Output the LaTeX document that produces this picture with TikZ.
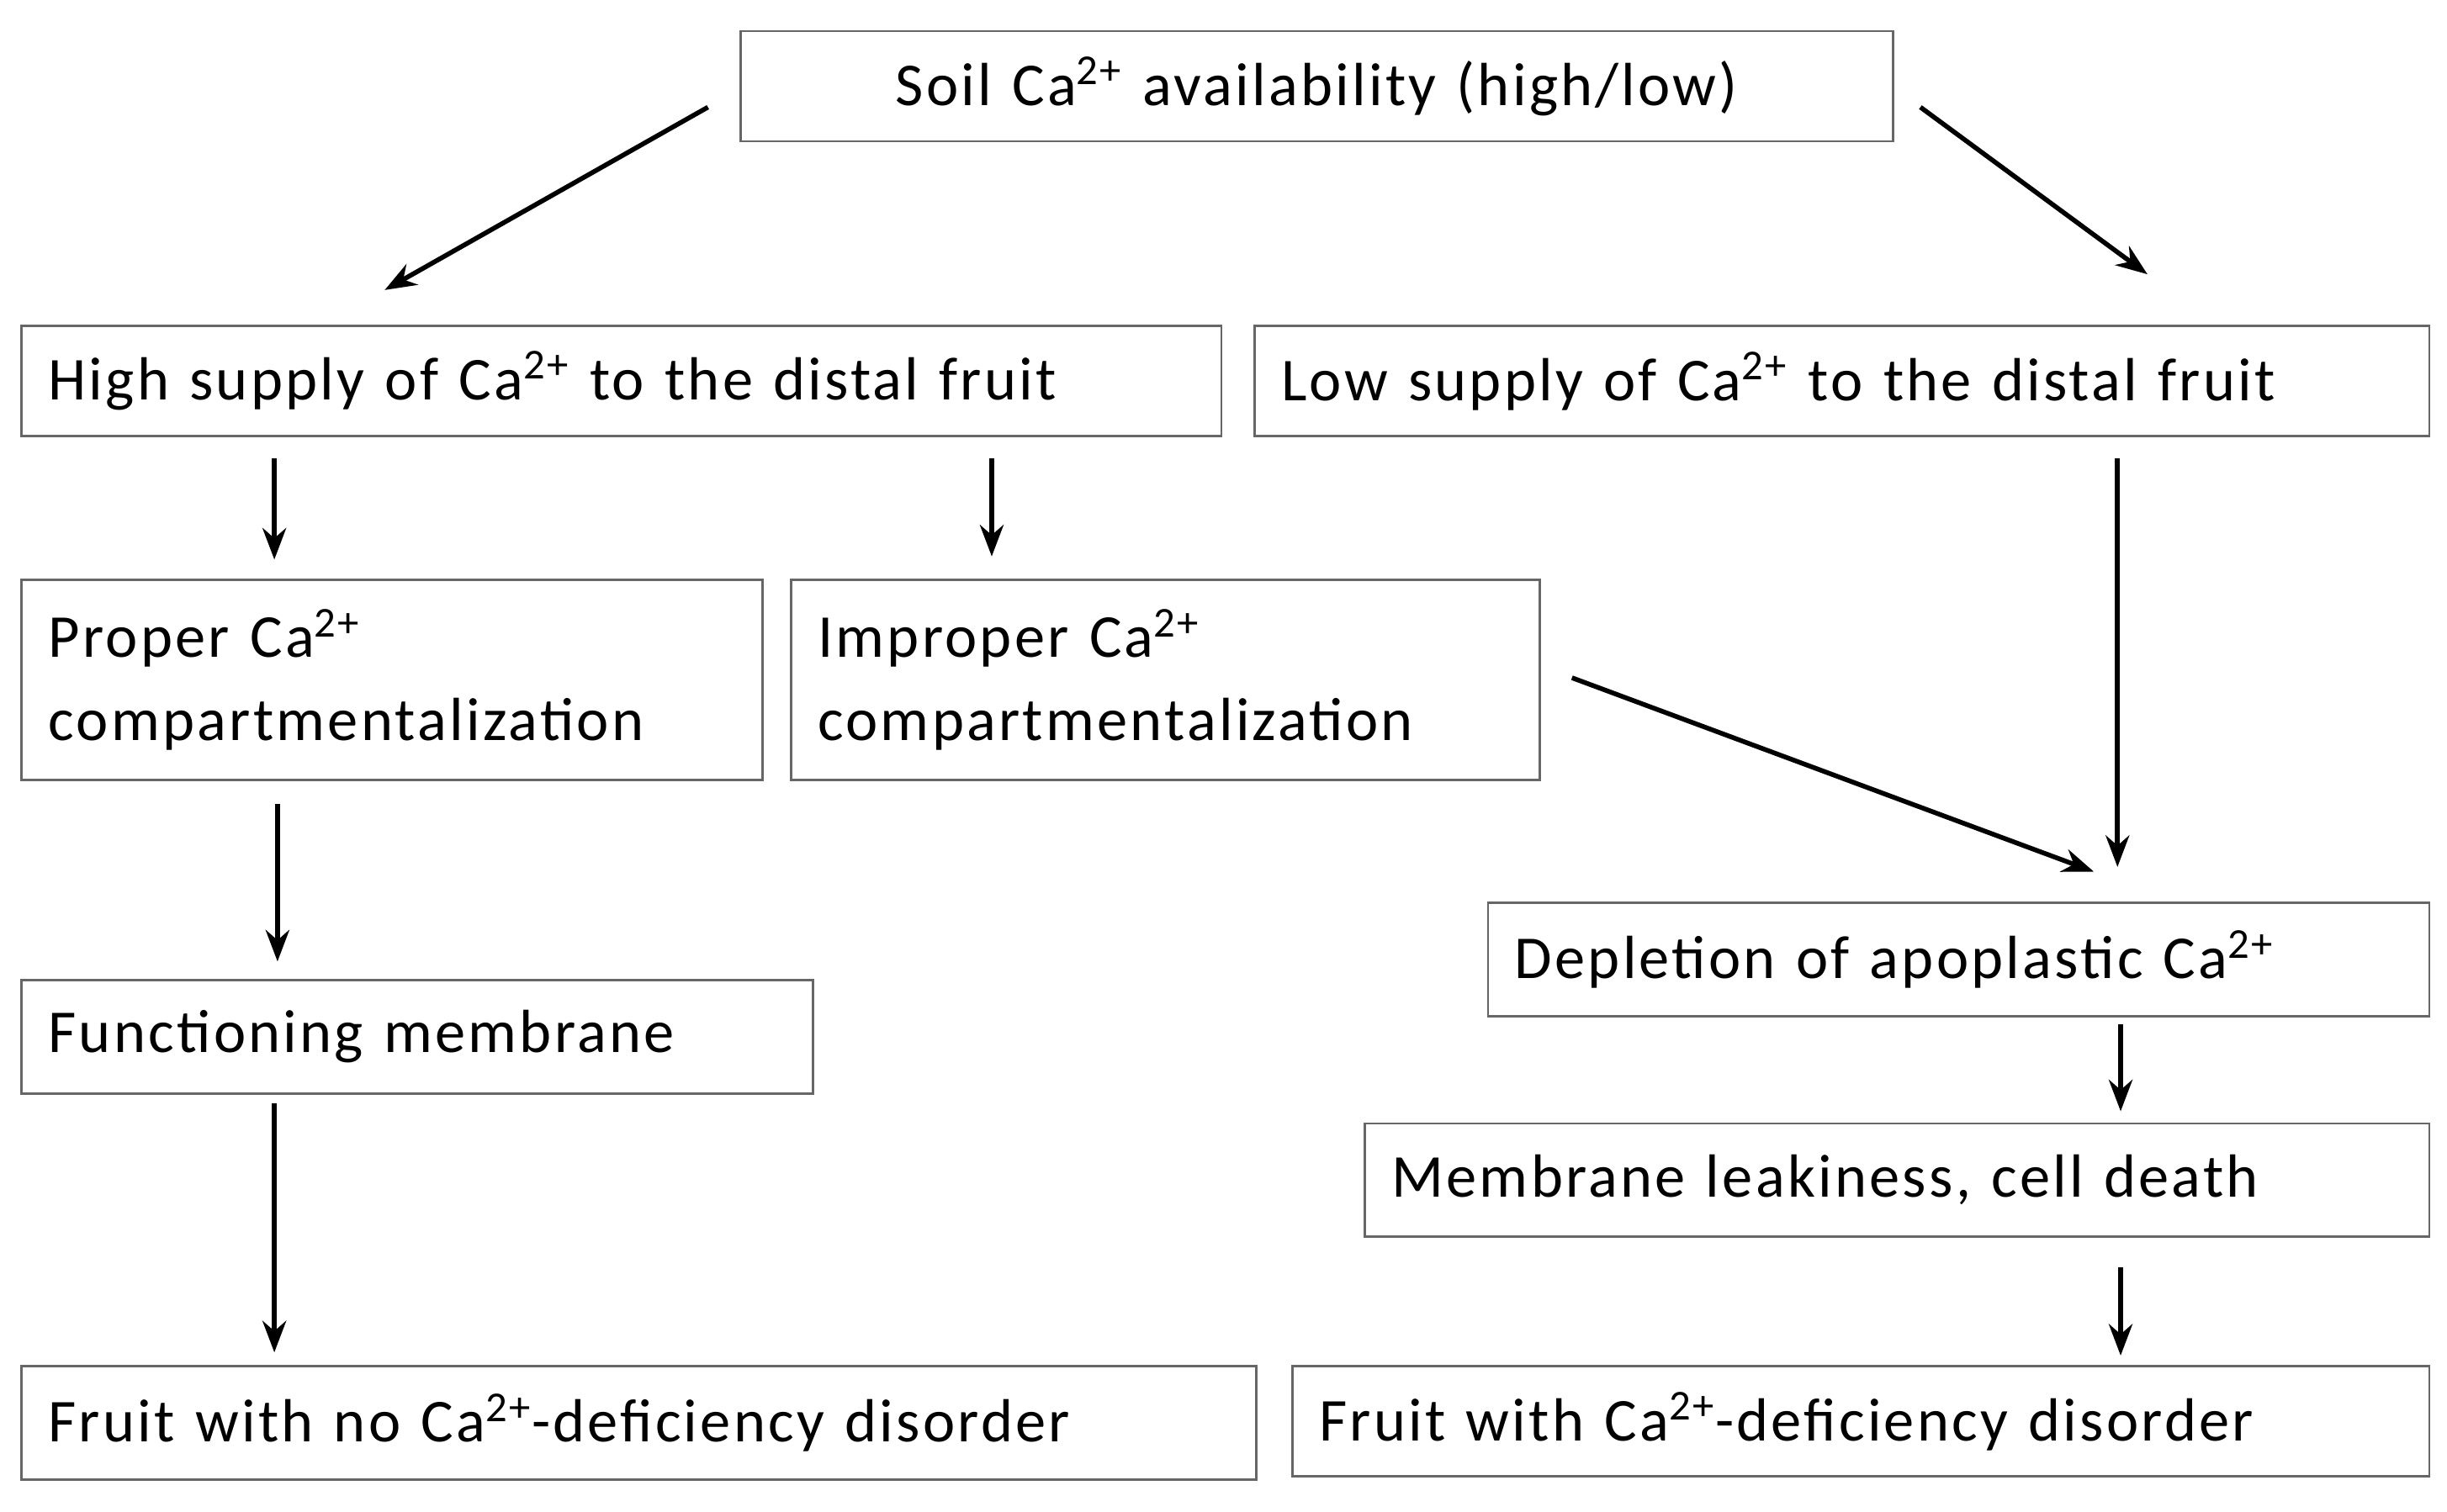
\documentclass[tikz,border=0pt]{standalone}
\usepackage{fontspec}
\setmainfont{Carlito}[LetterSpace=4.5]
\usetikzlibrary{arrows.meta}
\newcommand{\cas}{Ca\textsuperscript{2+}}
\begin{document}
\begin{tikzpicture}[x=0.02cm,y=-0.02cm,
  box/.style={draw=black!60,line width=0.8pt,anchor=north west,inner xsep=0.34cm,inner ysep=0pt,align=left,font=\fontsize{22}{30}\selectfont},
  arr/.style={line width=1.7pt,-{Stealth[length=0.4cm,width=0.3cm]}}]
\useasboundingbox (0,0) rectangle (1552,959);
\node[box,align=center,text width=731*0.02cm-0.68cm,minimum height=1.4cm] (top) at (469,19) {Soil \cas{} availability (high/low)};
\node[box,text width=761*0.02cm-0.68cm,minimum height=1.4cm] (high) at (13,206) {High supply of \cas{} to the distal fruit};
\node[box,text width=745*0.02cm-0.68cm,minimum height=1.4cm] (low) at (795,206) {Low supply of \cas{} to the distal fruit};
\node[box,text width=470*0.02cm-0.68cm,minimum height=2.54cm] (proper) at (13,367) {Proper \cas\\compartmentalization};
\node[box,text width=475*0.02cm-0.68cm,minimum height=2.54cm] (improper) at (501,367) {Improper \cas\\compartmentalization};
\node[box,text width=502*0.02cm-0.68cm,minimum height=1.44cm] (func) at (13,621) {Functioning membrane};
\node[box,text width=597*0.02cm-0.68cm,minimum height=1.44cm] (depl) at (943,572) {Depletion of apoplastic \cas};
\node[box,text width=675*0.02cm-0.68cm,minimum height=1.44cm] (leak) at (865,712) {Membrane leakiness, cell death};
\node[box,text width=783*0.02cm-0.68cm,minimum height=1.44cm] (fno) at (13,866) {Fruit with no \cas-deficiency disorder};
\node[box,text width=721*0.02cm-0.68cm,minimum height=1.4cm] (fyes) at (819,866) {Fruit with \cas-deficiency disorder};
\coordinate (a1s) at (449,68); \coordinate (a1e) at (244,184);
\coordinate (a2s) at (1218,68); \coordinate (a2e) at (1362,174);
\coordinate (a3s) at (174,291); \coordinate (a3e) at (174,355);
\coordinate (a4s) at (629,291); \coordinate (a4e) at (629,353);
\coordinate (a5s) at (1343,291); \coordinate (a5e) at (1343,550);
\coordinate (a6s) at (997,430); \coordinate (a6e) at (1328,553);
\coordinate (a7s) at (176,510); \coordinate (a7e) at (176,610);
\coordinate (a8s) at (1345,650); \coordinate (a8e) at (1345,705);
\coordinate (a9s) at (174,700); \coordinate (a9e) at (174,858);
\coordinate (a10s) at (1345,804); \coordinate (a10e) at (1345,860);
\foreach \i in {1,...,10}{\draw[arr] (a\i s) -- (a\i e);}
\end{tikzpicture}
\end{document}
